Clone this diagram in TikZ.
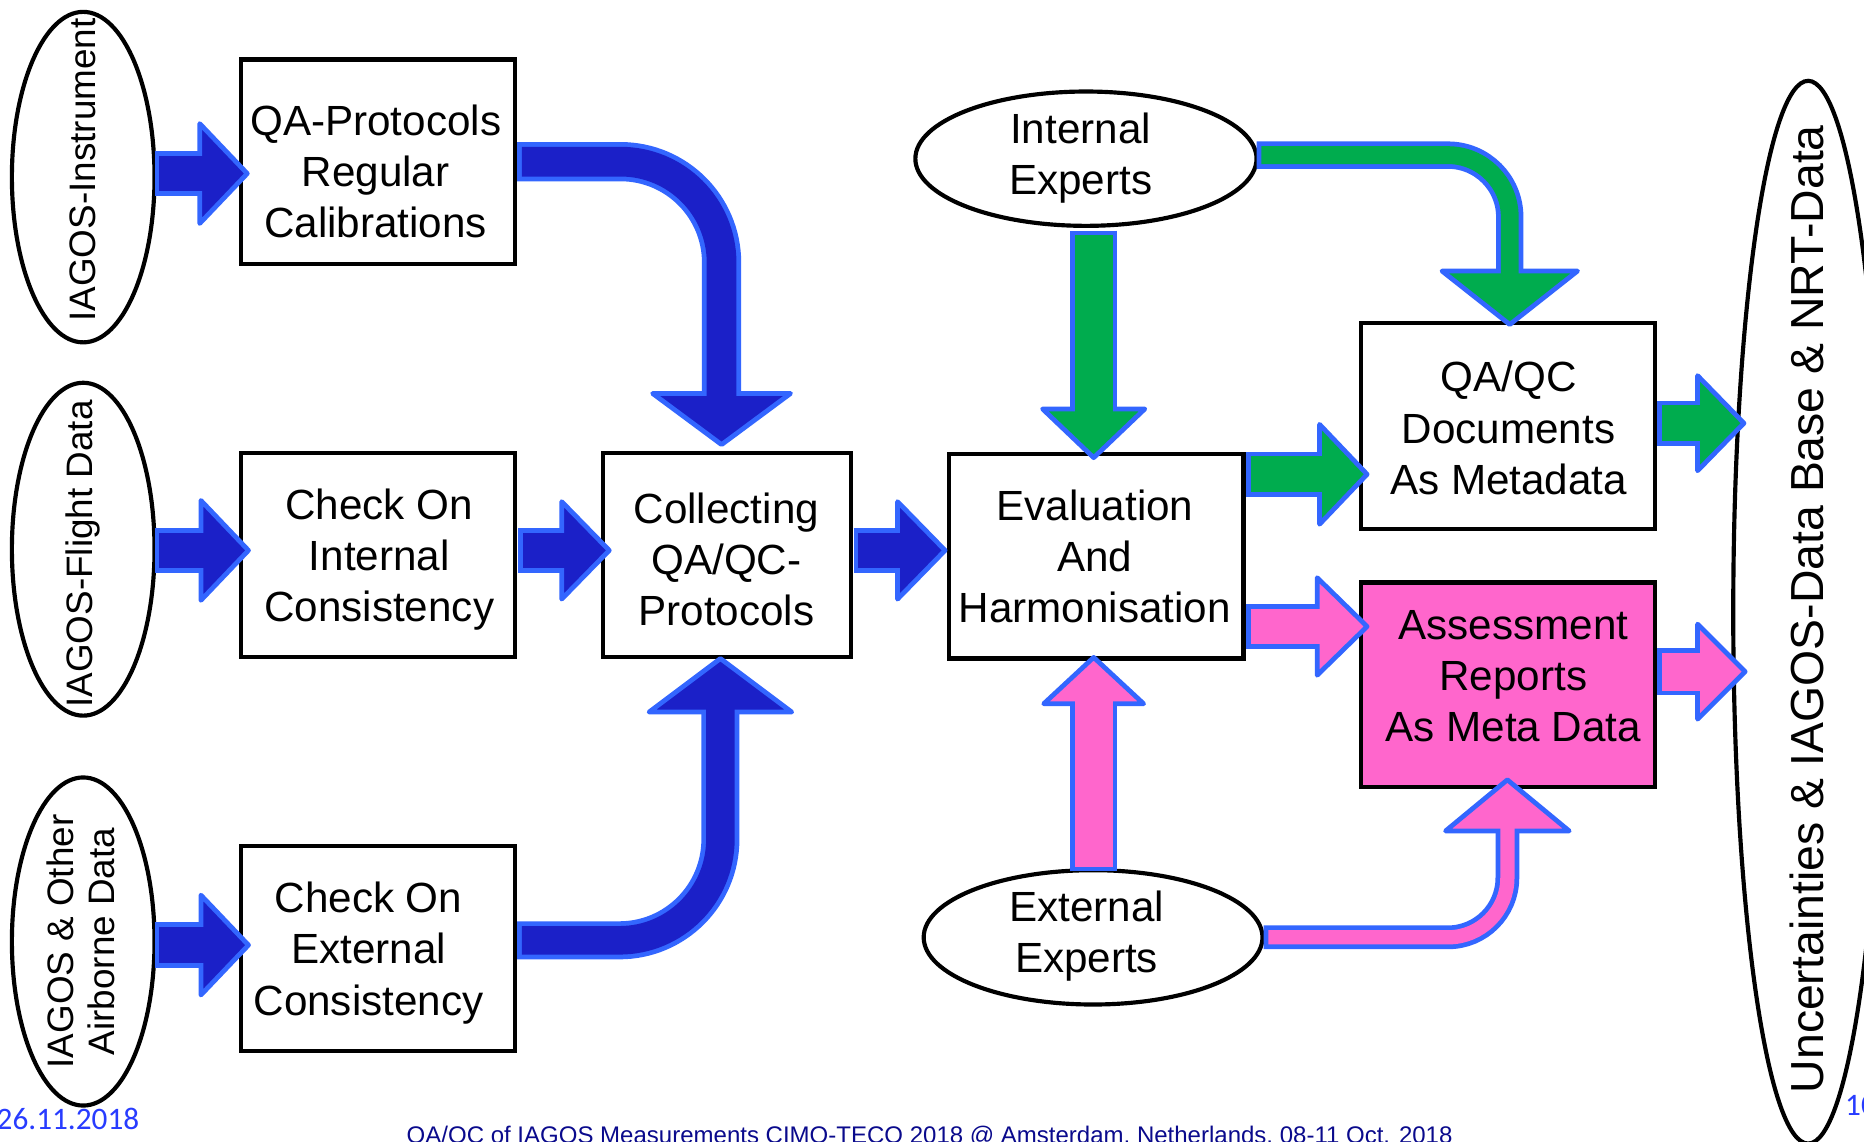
\documentclass[tikz,border=0pt]{standalone}
\usepackage{fontspec}
\setmainfont{Liberation Sans}
\newfontfamily\datefont{Carlito}
\usetikzlibrary{calc,shapes.geometric}
\definecolor{bord}{RGB}{51,102,255}
\definecolor{bfill}{RGB}{27,32,200}
\definecolor{gfill}{RGB}{0,172,78}
\definecolor{pfill}{RGB}{255,102,204}
\definecolor{datecol}{RGB}{40,60,255}
\definecolor{navy}{RGB}{10,10,140}
\tikzset{
  boxnode/.style={draw=black, line width=3.5pt, rectangle, inner sep=0pt, outer sep=0pt},
  ellnode/.style={draw=black, line width=3.5pt, ellipse, inner sep=0pt, outer sep=0pt},
  boxtext/.style={align=center, font=\fontsize{35.5}{43}\selectfont, inner sep=0pt},
  rottext/.style={rotate=90, align=center, font=\fontsize{31}{34}\selectfont, inner sep=0pt},
  headstyle/.style={draw=bord, line width=4pt, line join=round},
}
% right-pointing block arrow: #1 fill, #2 start, #3 tip, #4 W, #5 inner W, #6 head half, #7 head length
\newcommand\arrR[7]{%
  \draw[line width=#4pt, draw=bord] (#2) -- ($(#3)+(-#7,0)$);
  \filldraw[headstyle, fill=#1] (#3) -- ($(#3)+(-#7,#6)$) -- ($(#3)+(-#7,-#6)$) -- cycle;
  \draw[line width=#5pt, draw=#1, shorten <=4pt] (#2) -- ($(#3)+(-#7+4,0)$);}
\newcommand\arrD[7]{%
  \draw[line width=#4pt, draw=bord] (#2) -- ($(#3)+(0,#7)$);
  \filldraw[headstyle, fill=#1] (#3) -- ($(#3)+(-#6,#7)$) -- ($(#3)+(#6,#7)$) -- cycle;
  \draw[line width=#5pt, draw=#1, shorten <=4pt] (#2) -- ($(#3)+(0,#7-4)$);}
\newcommand\arrU[7]{%
  \draw[line width=#4pt, draw=bord] (#2) -- ($(#3)+(0,-#7)$);
  \filldraw[headstyle, fill=#1] (#3) -- ($(#3)+(-#6,-#7)$) -- ($(#3)+(#6,-#7)$) -- cycle;
  \draw[line width=#5pt, draw=#1, shorten <=4pt] (#2) -- ($(#3)+(0,-#7+4)$);}
\newcommand\arrCD[8]{%
  \draw[line width=#4pt, draw=bord, rounded corners=#8pt] (#2) -| ($(#3)+(0,#7)$);
  \filldraw[headstyle, fill=#1] (#3) -- ($(#3)+(-#6,#7)$) -- ($(#3)+(#6,#7)$) -- cycle;
  \draw[line width=#5pt, draw=#1, rounded corners=#8pt, shorten <=4pt] (#2) -| ($(#3)+(0,#7-4)$);}
\newcommand\arrCU[8]{%
  \draw[line width=#4pt, draw=bord, rounded corners=#8pt] (#2) -| ($(#3)+(0,-#7)$);
  \filldraw[headstyle, fill=#1] (#3) -- ($(#3)+(-#6,-#7)$) -- ($(#3)+(#6,-#7)$) -- cycle;
  \draw[line width=#5pt, draw=#1, rounded corners=#8pt, shorten <=4pt] (#2) -| ($(#3)+(0,-#7+4)$);}
\begin{document}
\begin{tikzpicture}[x=1pt,y=1pt]
\useasboundingbox (0,0) rectangle (1568,960);
\fill[white] (0,0) rectangle (1568,960);
% boxes
\node[boxnode, minimum width=230pt, minimum height=172pt] (b1) at (318,824) {};
\node[boxnode, minimum width=230pt, minimum height=172pt] (b2) at (318,493) {};
\node[boxnode, minimum width=230pt, minimum height=172pt] (b3) at (318,162) {};
\node[boxnode, minimum width=209pt, minimum height=172pt] (b4) at (611.5,493) {};
\node[boxnode, minimum width=248pt, minimum height=172pt] (b5) at (922,492) {};
\node[boxnode, minimum width=247pt, minimum height=173pt] (b6) at (1268.5,601.5) {};
\node[boxnode, fill=pfill, minimum width=247pt, minimum height=172pt] (b7) at (1268.5,384) {};
% ellipses
\node[ellnode, minimum width=120pt, minimum height=278pt] (e1) at (70,811) {};
\node[ellnode, minimum width=120pt, minimum height=280pt] (e2) at (70,498) {};
\node[ellnode, minimum width=120pt, minimum height=276pt] (e3) at (70,168) {};
\node[ellnode, minimum width=287pt, minimum height=113pt] (e4) at (913.5,826.5) {};
\node[ellnode, minimum width=285pt, minimum height=113pt] (e5) at (919.5,171.5) {};
\node[ellnode, minimum width=126pt, minimum height=894pt] (e6) at (1521,445) {};
% arrow tips
\coordinate (t1) at ($(b1.west)+(5,-10)$);
\coordinate (t2) at ($(b2.west)+(6,4)$);
\coordinate (t3) at ($(b3.west)+(6,3)$);
\coordinate (t4) at ($(b4.west)+(5.5,4)$);
\coordinate (t5) at ($(b5.west)+(-3,5)$);
\coordinate (tg1) at ($(b6.west)+(5,-40.5)$);
\coordinate (tp1) at ($(b7.west)+(5,49)$);
\coordinate (tg2) at ($(e6.west)+(9,159)$);
\coordinate (tp2) at ($(e6.west)+(10,-50)$);
\coordinate (tgd) at ($(b5.north)+(-2,-3)$);
\coordinate (tpu) at ($(b5.south)+(-2,1)$);
\coordinate (tcb1) at ($(b4.north)+(-4.5,7)$);
\coordinate (tcb3) at ($(b4.south)+(-5.5,-1)$);
\coordinate (tcg) at ($(b6.north)+(1.5,-1)$);
\coordinate (tcp) at ($(b7.south)+(-0.5,6)$);
% arrows
\arrR{bfill}{e1.east |- t1}{t1}{38}{30}{42}{40}
\arrR{bfill}{e2.east |- t2}{t2}{38}{30}{42}{40}
\arrR{bfill}{e3.east |- t3}{t3}{38}{30}{42}{40}
\arrR{bfill}{$(b2.east |- t4)+(3,0)$}{t4}{38}{30}{41}{40}
\arrR{bfill}{$(b4.east |- t5)+(2,0)$}{t5}{38}{30}{41}{40}
\arrCD{bfill}{$(b1.east)+(2,0)$}{tcb1}{33}{25}{58}{43}{85}
\arrCU{bfill}{$(b3.east)+(2,7)$}{tcb3}{32}{24}{60}{45}{85}
\arrD{gfill}{$(e4.south -| tgd)+(0,-4)$}{tgd}{40}{32}{43}{41}
\arrCD{gfill}{$(e4.east)+(0,3)$}{tcg}{23}{15}{57}{45}{52}
\arrR{gfill}{$(b5.east |- tg1)+(2,0)$}{tg1}{38}{30}{42}{40}
\arrR{gfill}{$(b6.east |- tg2)+(2,0)$}{tg2}{38}{30}{40}{39}
\arrR{pfill}{$(b5.east |- tp1)+(2,0)$}{tp1}{38}{30}{41}{42}
\arrR{pfill}{$(b7.east |- tp2)+(2,0)$}{tp2}{40}{32}{40}{40}
\arrU{pfill}{$(e5.north -| tpu)+(0,-1)$}{tpu}{40}{32}{42}{39}
\arrCU{pfill}{$(e5.east)+(1,0)$}{tcp}{20}{12}{52}{43}{50}
% texts
\node[boxtext] (b1t) at (316,816) {QA-Protocols\\Regular\\Calibrations};
\node[boxtext] (b2t) at (319,489.3) {Check On\\Internal\\Consistency};
\node[boxtext] (b3t) at (310,158.3) {Check On\\External\\Consistency};
\node[boxtext] (b4t) at (611,489.3) {Collecting\\QA/QC-\\Protocols};
\node[boxtext] (b5t) at (921,492) {Evaluation\\And\\Harmonisation};
\node[boxtext] (b6t) at (1269,600) {QA/QC\\Documents\\As Metadata};
\node[boxtext] (b7t) at (1273,391) {Assessment\\Reports\\As Meta Data};
\node[boxtext] (e4t) at (909,827.25) {Internal\\Experts};
\node[boxtext] (e5t) at (914,172.75) {External\\Experts};
\node[rottext] (e1t) at (69.5,817) {IAGOS-Instrument};
\node[rottext] (e2t) at (70,494) {IAGOS-Flight Data};
\node[rottext] (e3t) at (68,168) {IAGOS \& Other\\Airborne Data};
\node[rottext, font=\fontsize{39}{45}\selectfont] (e6t) at (1520,447.5) {Uncertainties \& IAGOS-Data Base \& NRT-Data};
% footer
\node[anchor=base west, inner sep=0pt, text=datecol, font=\datefont\fontsize{26.3}{30}\selectfont] (date) at (-3,9.5) {26.11.2018};
\node[anchor=base west, inner sep=0pt, text=datecol, font=\datefont\fontsize{26.3}{30}\selectfont] (pg) at (1552,21.5) {10};
\node[anchor=base, inner sep=0pt, text=navy, font=\fontsize{20.2}{24}\selectfont] (foot) at (782,-1.5) {QA/QC of IAGOS Measurements CIMO-TECO 2018 @ Amsterdam, Netherlands, 08-11 Oct. 2018};
\end{tikzpicture}
\end{document}
